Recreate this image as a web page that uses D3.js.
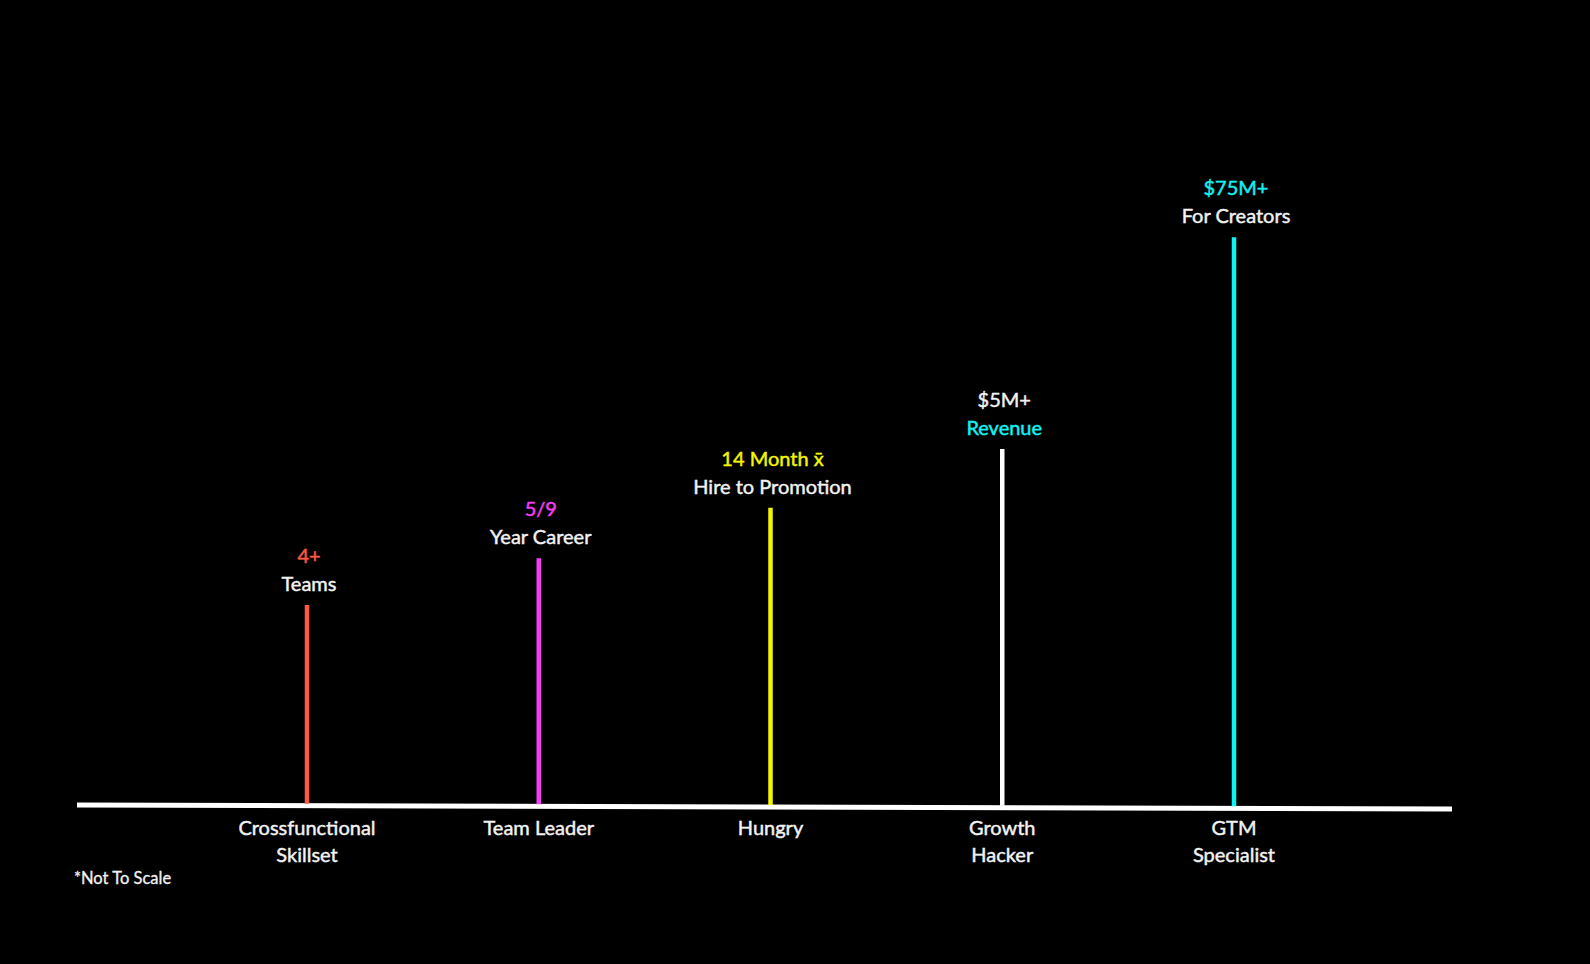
<!DOCTYPE html>
<html>
<head>
<meta charset="utf-8">
<script src="https://cdn.jsdelivr.net/npm/d3@7"></script>
<style>
  html, body { margin: 0; padding: 0; background: #000; }
  svg { display: block; }
  text { font-family: Lato, "Open Sans", sans-serif; stroke-width: 0.45px; paint-order: stroke; }
</style>
</head>
<body>
<svg id="chart" width="1590" height="964"></svg>
<script>
// ---- data ----
const categories = [["Crossfunctional", "Skillset"], ["Team Leader"], ["Hungry"], ["Growth", "Hacker"], ["GTM", "Specialist"]];
const keys = ["Crossfunctional Skillset", "Team Leader", "Hungry", "Growth Hacker", "GTM Specialist"];
const heights = [33.5, 41.3, 49.7, 59.5, 94.8];          // relative stem heights (not to scale)
const topLines = [["4+", "Teams"], ["5/9", "Year Career"], ["14 Month x\u0304", "Hire to Promotion"], ["$5M+", "Revenue"], ["$75M+", "For Creators"]];
const topLineAccent = [0, 0, 0, 1, 0];                    // which of the two lines is coloured
const stemColors = ["#ff5846", "#f83cf8", "#f5f500", "#ffffff", "#12f2f2"];
const accentColors = ["#ff5846", "#f83cf8", "#f5f500", "#12f2f2", "#12f2f2"];
const footnote = "*Not To Scale";

// ---- layout ----
const svg = d3.select("#chart");
const W = 1590, H = 964;
const TXT = "#f2f2f2";
const x = d3.scalePoint().domain(keys).range([307, 1234]);
const y = d3.scaleLinear().domain([0, 100]).range([806, 206]);
const axisX0 = 77, axisX1 = 1452;
const tilt = 4; // baseline drops slightly to the right
const baseY = px => y(0) - 1 + tilt * (px - axisX0) / (axisX1 - axisX0);

svg.append("rect").attr("width", W).attr("height", H).attr("fill", "#000");

// baseline
svg.append("line")
  .attr("x1", axisX0).attr("x2", axisX1)
  .attr("y1", baseY(axisX0)).attr("y2", baseY(axisX1))
  .attr("stroke", "#fff").attr("stroke-width", 5);

const data = keys.map((k, i) => ({ key: k, cat: categories[i], h: heights[i], top: topLines[i], acc: topLineAccent[i], c: stemColors[i], a: accentColors[i] }));

// stems
svg.selectAll("line.stem").data(data).join("line")
  .attr("class", "stem")
  .attr("x1", d => x(d.key)).attr("x2", d => x(d.key))
  .attr("y1", d => baseY(x(d.key)) - 2).attr("y2", d => y(d.h))
  .attr("stroke", d => d.c).attr("stroke-width", 4.5);

// top labels
const tg = svg.selectAll("g.top").data(data).join("g").attr("class", "top");
[0, 1].forEach(line => {
  tg.append("text")
    .attr("x", d => x(d.key) + 2).attr("y", d => y(d.h) - (line === 0 ? 42 : 14))
    .attr("text-anchor", "middle").attr("font-size", 20)
    .attr("fill", d => d.acc === line ? d.a : TXT)
    .attr("stroke", d => d.acc === line ? d.a : TXT)
    .text(d => d.top[line]);
});

// category labels
const bg = svg.selectAll("text.cat").data(data).join("text")
  .attr("class", "cat")
  .attr("text-anchor", "middle").attr("font-size", 20)
  .attr("fill", TXT).attr("stroke", TXT)
  .attr("x", d => x(d.key));
bg.selectAll("tspan").data(d => d.cat).join("tspan")
  .attr("x", function() { return d3.select(this.parentNode).attr("x"); })
  .attr("y", (d, i) => y(0) + 29 + i * 27)
  .text(d => d);

// footnote
svg.append("text")
  .attr("x", 74).attr("y", 884)
  .attr("font-size", 16.5).attr("fill", TXT).attr("stroke", TXT)
  .style("stroke-width", "0.3px")
  .text(footnote);
</script>
</body>
</html>
